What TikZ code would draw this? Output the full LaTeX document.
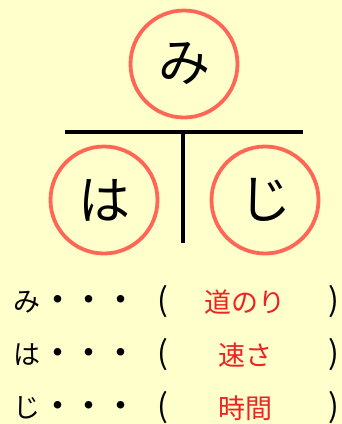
\documentclass[tikz,border=0pt]{standalone}
\usepackage{fontspec}
\newfontfamily\jp{Noto Sans CJK JP}
\definecolor{bg}{HTML}{FFFFCC}
\definecolor{ring}{HTML}{FF6655}
\definecolor{ans}{HTML}{EE2222}
\begin{document}
\begin{tikzpicture}[x=1pt,y=-1pt,
  ringnode/.style={circle,draw=ring,line width=3.8pt,minimum size=107pt,inner sep=0pt,font=\jp\fontsize{52}{52}\selectfont},
  bar/.style={line width=4pt,black},
  rowtext/.style={font=\jp\fontsize{27}{27}\selectfont,inner sep=0pt,anchor=center},
  dottext/.style={font=\jp\bfseries\fontsize{27}{27}\selectfont,inner sep=0pt,anchor=center},
  partext/.style={font=\jp\fontsize{32}{32}\selectfont,inner sep=0pt,anchor=center},
  anstext/.style={rowtext,text=ans}]
\fill[bg] (0,0) rectangle (342,424);
\useasboundingbox (0,0) rectangle (342,424);
\node[ringnode] (mi) at (184,64) {み};
\node[ringnode] (ha) at (104,200) {は};
\node[ringnode] (ji) at (265,200) {じ};
\coordinate (hl) at (65,132);
\coordinate (hr) at (303,132);
\coordinate (vt) at (183,132);
\coordinate (vb) at (183,243);
\draw[bar] (hl) -- (hr);
\draw[bar] (vt) -- (vb);
% rows
\foreach \k/\lab/\yy/\ans in {1/み/302/道のり,2/は/355/速さ,3/じ/408/時間}{
  \node[rowtext] (l\k) at (27,\yy) {\lab};
  \node[dottext] (da\k) at (58,\yy) {・};
  \node[dottext] (db\k) at (89,\yy) {・};
  \node[dottext] (dc\k) at (121,\yy) {・};
  \node[partext] (po\k) at (163,\yy) {(};
  \node[anstext] (a\k) at (245,\yy) {\ans};
  \node[partext] (pc\k) at (334,\yy) {)};
}
\end{tikzpicture}
\end{document}
